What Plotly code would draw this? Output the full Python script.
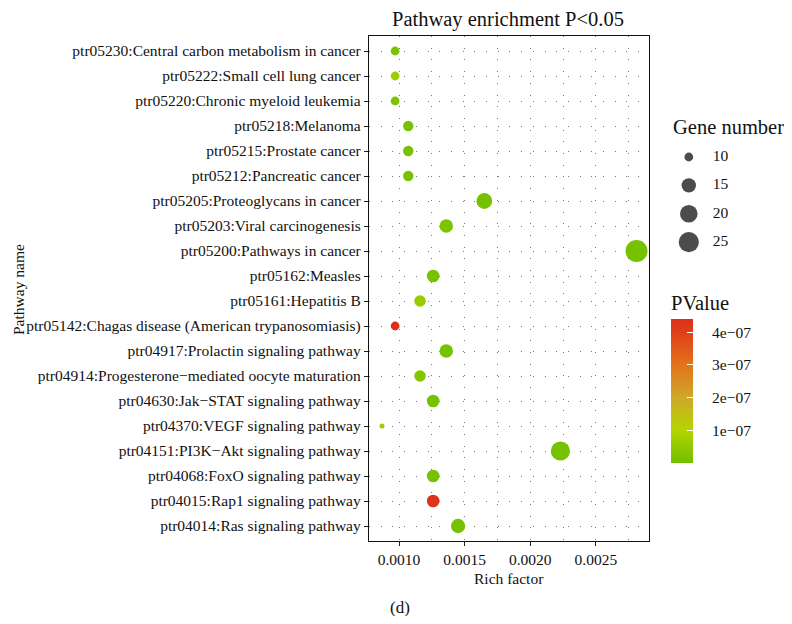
import plotly.graph_objects as go

pathways = [
    "ptr05230:Central carbon metabolism in cancer",
    "ptr05222:Small cell lung cancer",
    "ptr05220:Chronic myeloid leukemia",
    "ptr05218:Melanoma",
    "ptr05215:Prostate cancer",
    "ptr05212:Pancreatic cancer",
    "ptr05205:Proteoglycans in cancer",
    "ptr05203:Viral carcinogenesis",
    "ptr05200:Pathways in cancer",
    "ptr05162:Measles",
    "ptr05161:Hepatitis B",
    "ptr05142:Chagas disease (American trypanosomiasis)",
    "ptr04917:Prolactin signaling pathway",
    "ptr04914:Progesterone\u2212mediated oocyte maturation",
    "ptr04630:Jak\u2212STAT signaling pathway",
    "ptr04370:VEGF signaling pathway",
    "ptr04151:PI3K\u2212Akt signaling pathway",
    "ptr04068:FoxO signaling pathway",
    "ptr04015:Rap1 signaling pathway",
    "ptr04014:Ras signaling pathway",
]
rich_factor = [0.00097, 0.00097, 0.00097, 0.00107, 0.00107, 0.00107, 0.00165, 0.00136,
               0.00281, 0.00126, 0.00116, 0.00097, 0.00136, 0.00116, 0.00126, 0.00087,
               0.00223, 0.00126, 0.00126, 0.00145]
gene_number = [10, 10, 10, 11, 11, 11, 17, 14, 29, 13, 12, 10, 14, 12, 13, 9, 23, 13, 13, 15]
pvalue = [1.5e-8, 7e-8, 2e-8, 1e-8, 1e-8, 1e-8, 1e-8, 2e-8, 1e-8, 1e-8, 6e-8, 4.4e-7,
          1e-8, 3e-8, 1e-8, 7e-8, 1e-8, 1e-8, 4.3e-7, 1e-8]

x_ticks = [0.0010, 0.0015, 0.0020, 0.0025]
x_ticklabels = ["0.0010", "0.0015", "0.0020", "0.0025"]
legend_sizes = [10, 15, 20, 25]
cbar_ticks = [1e-7, 2e-7, 3e-7, 4e-7]
cbar_ticklabels = ["1e\u221207", "2e\u221207", "3e\u221207", "4e\u221207"]

FONT = "Liberation Serif"
SMALL = 15.5
BIG = 20.5
TXT = "#111"
gmin, gmax = min(gene_number), max(gene_number)
DMIN, DMAX = 5, 22


def diam(g):
    return DMIN + (DMAX - DMIN) * ((g - gmin) / (gmax - gmin)) ** 0.5


colorscale = [
    [0.0, "#70c000"],
    [0.23, "#b4d400"],
    [0.45, "#cfa82a"],
    [0.68, "#e2741a"],
    [0.9, "#e0401a"],
    [1.0, "#dc301c"],
]

# page body has an 8px margin; work in screenshot pixels and convert
OFF = 8
W, H = 792 - 2 * OFF, 624 - 2 * OFF
plot_l, plot_r, plot_t, plot_b = 369, 649, 36, 541  # screenshot px
L = plot_l - OFF
T = plot_t - OFF
B = H - (plot_b - OFF)
R = 0
PW = W - L - R
PH = H - T - B


def px_x(p):
    return (p - OFF - L) / PW


def px_y(p):
    return (H - B - (p - OFF)) / PH


fig = go.Figure()

fig.add_trace(go.Scatter(
    x=rich_factor, y=pathways, mode="markers",
    marker=dict(
        size=[diam(g) for g in gene_number], opacity=1,
        color=pvalue, colorscale=colorscale, cmin=0, cmax=4.4e-7,
        line=dict(width=0),
        colorbar=dict(
            title=dict(text="PValue", side="top", font=dict(family=FONT, size=BIG, color=TXT)),
            x=px_x(671), xanchor="left", xpad=0,
            y=px_y(463), yanchor="bottom", ypad=0,
            len=171, lenmode="pixels", thickness=22,
            outlinewidth=0,
            tickvals=cbar_ticks,
            ticktext=["\u00a0\u00a0\u00a0\u00a0" + t for t in cbar_ticklabels],
            ticks="inside", tickcolor="white", ticklen=6, tickwidth=1,
            tickfont=dict(family=FONT, size=SMALL, color=TXT),
        ),
    ),
    showlegend=False, xaxis="x", yaxis="y",
))

# size legend
fig.add_trace(go.Scatter(
    x=[0.14] * len(legend_sizes), y=legend_sizes, mode="markers",
    marker=dict(size=[diam(g) for g in legend_sizes], color="black", line=dict(width=0)),
    showlegend=False, xaxis="x2", yaxis="y2", hoverinfo="skip",
))
fig.add_trace(go.Scatter(
    x=[0.34] * len(legend_sizes), y=legend_sizes, mode="text",
    text=[str(s) for s in legend_sizes], textposition="middle right",
    textfont=dict(family=FONT, size=SMALL, color=TXT),
    showlegend=False, xaxis="x2", yaxis="y2", hoverinfo="skip",
))

grid_dash = "1px,10.7px"
fig.update_layout(
    width=W, height=H,
    margin=dict(l=L, r=R, t=T, b=B),
    paper_bgcolor="white", plot_bgcolor="white",
    font=dict(family=FONT, color=TXT),
    xaxis=dict(
        domain=[0, (plot_r - plot_l) / PW],
        range=[0.000771, 0.002905],
        tickvals=x_ticks, ticktext=x_ticklabels,
        ticks="outside", ticklen=4, tickcolor="#222",
        tickfont=dict(family=FONT, size=SMALL, color=TXT),
        showgrid=True, gridcolor="#777", gridwidth=1, griddash=grid_dash,
        minor=dict(dtick=0.00025, tick0=0.0010, showgrid=True, gridcolor="#777",
                   griddash=grid_dash, gridwidth=1),
        showline=True, linecolor="#111", linewidth=1.3, mirror=True,
        zeroline=False, automargin=False,
    ),
    yaxis=dict(
        domain=[0, 1],
        categoryorder="array", categoryarray=pathways,
        range=[len(pathways) - 0.4, -0.6],
        ticks="outside", ticklen=4, tickcolor="#222",
        tickfont=dict(family=FONT, size=SMALL, color=TXT),
        showgrid=True, gridcolor="#777", gridwidth=1, griddash=grid_dash,
        showline=True, linecolor="#111", linewidth=1.3, mirror=True,
        zeroline=False, automargin=False,
    ),
    xaxis2=dict(domain=[px_x(672), 1], range=[0, (W + OFF - 672) / 120.0], visible=False,
                anchor="y2", fixedrange=True),
    yaxis2=dict(domain=[px_y(265), px_y(115)], visible=False, anchor="x2",
                range=[10 + (265 - 157) / 5.67, 10 - (157 - 115) / 5.67], fixedrange=True),
    annotations=[
        dict(text="Pathway enrichment P<0.05", x=px_x(508), y=px_y(20), xref="paper", yref="paper",
             xanchor="center", yanchor="middle", showarrow=False,
             font=dict(family=FONT, size=BIG, color=TXT)),
        dict(text="Rich factor", x=px_x(509), y=px_y(578), xref="paper", yref="paper",
             xanchor="center", yanchor="middle", showarrow=False,
             font=dict(family=FONT, size=SMALL, color=TXT)),
        dict(text="Pathway name", x=px_x(18), y=px_y(290), xref="paper", yref="paper",
             xanchor="center", yanchor="middle", showarrow=False, textangle=-90,
             font=dict(family=FONT, size=SMALL, color=TXT)),
        dict(text="Gene number", x=px_x(671), y=px_y(127), xref="paper", yref="paper",
             xanchor="left", yanchor="middle", showarrow=False,
             font=dict(family=FONT, size=BIG, color=TXT)),
        dict(text="(d)", x=px_x(400), y=px_y(607), xref="paper", yref="paper",
             xanchor="center", yanchor="middle", showarrow=False,
             font=dict(family=FONT, size=17, color=TXT)),
    ],
)

fig.write_html("out.html")
